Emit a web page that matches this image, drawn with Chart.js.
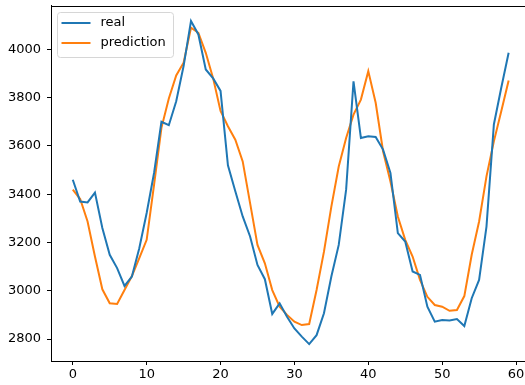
<!DOCTYPE html>
<html>
<head>
<meta charset="utf-8">
<script src="https://cdn.jsdelivr.net/npm/chart.js@4/dist/chart.umd.min.js"></script>
<style>
html,body{margin:0;padding:0;background:#fff;overflow:hidden;width:525px;height:385px;}
#c{display:block;}
</style>
</head>
<body>
<canvas id="c" width="541" height="385"></canvas>
<script>
const seriesNames = ["real", "prediction"];
const realValues = [3460,3370,3366,3407,3260,3149,3094,3020,3059,3176,
  3322,3488,3700,3686,3785,3931,4118,4062,3917,3880,
  3828,3520,3412,3308,3225,3107,3048,2904,2948,2892,
  2844,2810,2779,2816,2907,3059,3190,3419,3868,3633,
  3640,3637,3585,3488,3239,3204,3080,3066,2934,2872,
  2879,2877,2883,2854,2969,3045,3266,3689,3841,3986];
const predictionValues = [3419,3380,3287,3142,3006,2948,2945,3003,3061,3135,
  3211,3439,3675,3797,3892,3945,4090,4069,3986,3880,
  3745,3682,3626,3536,3363,3190,3114,3003,2934,2900,
  2872,2858,2862,3003,3162,3349,3515,3633,3730,3792,
  3910,3779,3578,3453,3308,3211,3142,3045,2975,2941,
  2934,2917,2920,2978,3149,3287,3474,3619,3744,3871];
const xTickValues = [0,10,20,30,40,50,60];
const yTickValues = [2800,3000,3200,3400,3600,3800,4000];

const toPoints = arr => arr.map((v, i) => ({x: i, y: v}));
const FONT = "'DejaVu Sans', sans-serif";

const legendPlugin = {
  id: 'mplLegend',
  afterDatasetsDraw(chart) {
    const ctx = chart.ctx;
    const x0 = chart.chartArea.left + 6.5, y0 = chart.chartArea.top + 7;
    const w = 116, h = 45, r = 3;
    ctx.save();
    ctx.beginPath();
    ctx.moveTo(x0 + r, y0);
    ctx.arcTo(x0 + w, y0, x0 + w, y0 + h, r);
    ctx.arcTo(x0 + w, y0 + h, x0, y0 + h, r);
    ctx.arcTo(x0, y0 + h, x0, y0, r);
    ctx.arcTo(x0, y0, x0 + w, y0, r);
    ctx.closePath();
    ctx.fillStyle = 'rgba(255,255,255,0.8)';
    ctx.fill();
    ctx.strokeStyle = '#d6d6d6';
    ctx.lineWidth = 1;
    ctx.stroke();
    chart.data.datasets.forEach((ds, i) => {
      const yy = y0 + 10.5 + i * 20;
      ctx.beginPath();
      ctx.moveTo(x0 + 4, yy);
      ctx.lineTo(x0 + 33, yy);
      ctx.strokeStyle = ds.borderColor;
      ctx.lineWidth = 2;
      ctx.stroke();
      ctx.fillStyle = '#000';
      ctx.font = '13px ' + FONT;
      ctx.textBaseline = 'middle';
      ctx.textAlign = 'left';
      ctx.fillText(ds.label, x0 + 43, yy);
    });
    ctx.restore();
  }
};

new Chart(document.getElementById('c'), {
  type: 'scatter',
  data: {
    datasets: [
      {label: seriesNames[0], data: toPoints(realValues), showLine: true, borderColor: '#1f77b4', backgroundColor: '#1f77b4', borderWidth: 2, pointRadius: 0, tension: 0},
      {label: seriesNames[1], data: toPoints(predictionValues), showLine: true, borderColor: '#ff7f0e', backgroundColor: '#ff7f0e', borderWidth: 2, pointRadius: 0, tension: 0}
    ]
  },
  options: {
    responsive: false,
    animation: false,
    layout: {padding: {left: 0, right: 0, top: 5.5, bottom: 0}},
    plugins: {legend: {display: false}, tooltip: {enabled: false}},
    scales: {
      x: {
        type: 'linear', min: -2.95, max: 63.38,
        afterBuildTicks: s => { s.ticks = xTickValues.map(v => ({value: v})); },
        afterFit: s => { s.height = 24; s.paddingLeft = 0; s.paddingRight = 0; },
        grid: {drawOnChartArea: false, drawTicks: true, tickLength: 4, color: '#000', tickWidth: 1},
        border: {display: true, color: '#000', width: 1},
        ticks: {color: '#000', font: {family: FONT, size: 13}, padding: 2, maxRotation: 0, autoSkip: false,
                callback: v => String(v)}
      },
      y: {
        type: 'linear', min: 2709, max: 4182,
        afterBuildTicks: s => { s.ticks = yTickValues.map(v => ({value: v})); },
        afterFit: s => { s.width = 51; s.paddingTop = 0; s.paddingBottom = 0; },
        grid: {drawOnChartArea: false, drawTicks: true, tickLength: 4, color: '#000', tickWidth: 1},
        border: {display: true, color: '#000', width: 1},
        ticks: {color: '#000', font: {family: FONT, size: 13}, padding: 6, autoSkip: false,
                callback: v => String(v)}
      }
    }
  },
  plugins: [legendPlugin, {
    id: 'frame',
    afterDraw(chart) {
      const {left, right, top, bottom} = chart.chartArea;
      const ctx = chart.ctx;
      ctx.save();
      ctx.fillStyle = '#fff';
      ctx.fillRect(519, top + 1, chart.width - 519, bottom - top - 2);
      ctx.strokeStyle = '#000';
      ctx.lineWidth = 1;
      ctx.beginPath();
      ctx.moveTo(left, Math.round(top) + 0.5); ctx.lineTo(right, Math.round(top) + 0.5);
      ctx.stroke();
      ctx.restore();
    }
  }]
});
</script>
</body>
</html>
